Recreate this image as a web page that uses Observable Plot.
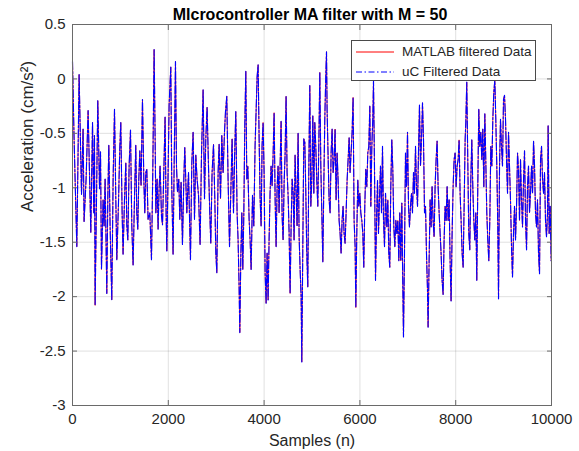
<!DOCTYPE html>
<html><head><meta charset="utf-8">
<script src="https://cdn.jsdelivr.net/npm/d3@7"></script>
<script src="https://cdn.jsdelivr.net/npm/@observablehq/plot@0.6"></script>
<style>
html,body{margin:0;padding:0;background:#fff;}
#wrap{position:relative;width:579px;height:451px;font-family:"Liberation Sans",Arial,sans-serif;}
#legend{position:absolute;left:351px;top:40px;width:185px;height:41px;box-sizing:border-box;border:1px solid #4a4a4a;background:#fff;}
#legend .sw{position:absolute;left:3px;}
#legend .lb{position:absolute;left:50px;font-size:13.5px;color:#262626;white-space:nowrap;line-height:1;}
</style></head><body>
<div id="wrap"></div>
<script>
const samples = [0,33,90,138,188,221,242,284,326,382,418,445,459,472,528,564,585,605,639,660,681,716,737,758,785,820,848,877,904,925,960,987,1008,1036,1056,1086,1113,1134,1155,1182,1211,1238,1265,1294,1321,1342,1363,1384,1405,1432,1461,1489,1509,1530,1551,1578,1614,1649,1676,1704,1725,1740,1766,1787,1808,1829,1858,1879,1906,1933,1954,1969,1996,2017,2052,2073,2100,2129,2150,2171,2192,2219,2240,2267,2296,2324,2344,
2386,2422,2463,2491,2518,2547,2574,2601,2631,2664,2693,2727,2756,2783,2810,2839,2866,2887,2914,2944,2971,2992,3013,3040,3061,3090,3117,3144,3173,3194,3221,3248,3278,3305,3332,3361,3388,3409,3436,3457,3478,3493,3514,3535,3555,3576,3597,3618,3639,3660,3687,3708,3729,3758,3785,3812,3833,3854,3875,3896,3917,3938,3958,3979,4000,4021,4042,4063,4084,4104,4125,4146,4167,4188,4209,4230,4251,4271,4292,4313,4334,4355,4376,4397,4418,4438,4459,4480,4501,4522,4543,4564,4585,4606,4626,4647,4668,4689,4710,4731,4752,4773,4787,4808,4829,4850,
4871,4891,4912,4933,4954,4975,4996,5017,5038,5058,5079,5100,5121,5142,5163,5184,5205,5226,5246,5267,5288,5303,5315,5336,5357,5378,5399,5420,5441,5462,5482,5503,5524,5545,5566,5587,5608,5628,5649,5670,5691,5712,5733,5754,5775,5795,5816,5837,5858,5879,5900,5915,5935,5956,5977,5998,6019,6040,6061,6081,6102,6123,6144,6165,6186,6207,6228,6249,6269,6284,6305,6326,6347,6368,6388,6409,6430,6451,6472,6493,6514,6535,
6562,6583,6603,6624,6645,6666,6687,6708,6729,6750,6771,6792,6812,6833,6854,6875,6896,6910,6931,6952,6973,6994,7015,7035,7056,7077,7098,7119,7140,7161,7182,7203,7223,7244,7265,7286,7307,7328,7349,7370,7390,7411,7424,7445,7466,7487,7507,7528,7549,7570,7591,7612,7633,7654,7675,7695,7716,7737,7758,7779,7800,7821,7842,7863,7883,7904,7925,7946,7967,7988,8009,8030,8051,8071,8092,8113,8134,8155,8176,8197,
8211,8231,8252,8273,8294,8315,8336,8357,8378,8399,8420,8440,8461,8482,8503,8524,8545,8566,8587,8608,8628,8649,8670,8691,8712,8733,8754,8775,8796,8817,8837,8858,8879,8894,8915,8935,8956,8977,8998,9019,9040,9061,9082,9103,9123,9144,9165,9186,9207,9228,9249,9270,9291,9311,9332,9353,9374,9395,9416,9437,9458,9479,9499,9520,9541,9562,9583,9604,9625,9646,9666,9687,9708,9729,9750,9771,9792,9813,9834,9854,9875,9896,9917,9930,9951,9972,9993];

const accel = [0.16,-0.55,-1.54,0.04,-1.06,-0.46,-1.31,-0.92,-0.29,-1.41,-0.40,-1.23,-0.52,-2.08,-0.20,-1.01,-0.67,-1.75,-1.11,-1.35,-0.92,-1.97,-1.10,-0.61,-1.35,-2.03,-0.92,-0.28,-1.10,-1.66,-1.14,-0.64,-0.40,-1.23,-1.61,-1.10,-0.77,-1.35,-1.48,-0.80,-0.47,-1.35,-1.71,-1.10,-0.61,-1.23,-1.38,-0.92,-0.66,-0.98,-0.19,-0.92,-1.23,-0.86,-0.83,-1.29,-1.23,-1.66,-0.86,0.27,-0.55,-1.23,-0.92,-1.38,-1.01,-0.80,-1.26,-1.34,-0.86,-0.35,-1.23,-1.58,-0.86,-0.24,0.11,-1.01,-1.61,-0.55,0.16,-0.80,-1.04,-0.92,-1.29,-0.95,-1.52,-0.92,-0.63,
-1.23,-0.86,-1.66,-0.77,-0.49,-1.29,-0.70,-0.92,-1.07,-1.52,-0.70,-0.10,-1.10,-0.55,-0.26,-0.80,-1.23,-1.51,-0.86,-0.60,-1.10,-1.60,-1.78,-0.86,-0.60,-1.10,-0.52,-0.86,-0.49,-0.30,-0.16,-0.92,-1.54,-1.04,-0.55,-1.23,-0.64,-0.30,-1.23,-1.48,-1.91,-2.33,-1.63,-1.23,-1.75,-1.26,-0.43,0.07,-0.92,-0.80,-1.29,-1.48,-1.75,-1.07,-1.35,-0.61,-0.30,0.02,0.13,-0.55,-1.10,-1.35,-0.61,-0.40,-0.86,-1.78,-2.06,-1.60,-2.03,-1.48,-1.04,-0.80,-0.98,-0.70,-0.31,-1.10,-1.54,-1.01,-0.80,-1.23,-0.80,-0.39,-1.26,-1.48,-0.95,-0.70,-0.16,-0.86,-1.07,-1.41,-1.97,-1.35,-0.92,-1.04,-1.48,-0.70,-1.03,-1.35,-0.50,-1.45,-1.75,-2.00,-2.60,-1.54,-0.55,-0.58,
-1.05,-1.60,-1.91,-0.83,-0.06,-1.17,-0.93,-0.34,-1.05,-0.40,-0.62,-0.93,-1.17,-0.62,0.06,-0.80,-1.23,-1.68,-0.99,-0.37,0.03,0.25,-0.28,-0.71,-1.11,-1.23,-0.68,-0.46,-0.86,-0.74,-0.46,-1.11,-0.68,-0.93,-1.30,-1.42,-1.60,-1.30,-1.17,-1.42,-1.51,-1.23,-0.93,-0.74,-0.54,-0.86,-0.68,-0.49,-0.17,-1.30,-1.54,-2.10,-1.42,-0.93,-1.17,-1.05,-1.23,-1.30,-1.42,-1.73,-1.17,-0.83,-0.99,-0.68,-0.62,-0.25,-1.17,-0.62,-0.37,-0.02,-0.83,-1.85,-1.30,-0.93,-1.42,-1.11,-0.80,-1.23,-0.62,-1.30,-1.54,-1.05,
-1.36,-1.11,-1.60,-1.73,-0.99,-0.56,-0.83,-1.36,-1.54,-1.30,-1.42,-1.30,-1.67,-1.23,-1.67,-1.14,-1.91,-2.37,-1.60,-0.68,-0.99,-0.49,-1.17,-1.36,-1.17,-1.05,-1.23,-0.86,-1.05,-0.62,-0.99,-1.17,-0.68,-0.24,-0.80,-0.56,-0.22,-0.56,-1.23,-1.17,-1.60,-1.94,-2.28,-1.67,-1.11,-1.36,-0.99,-1.30,-1.45,-0.99,-0.74,-0.57,-0.99,-1.23,-1.42,-1.60,-1.85,-1.98,-1.48,-1.17,-1.30,-0.99,-1.30,-1.11,-1.67,-2.04,-1.42,-0.99,-0.74,-0.68,-0.99,-0.80,-0.74,-0.56,-1.05,-1.30,-1.60,-1.73,-1.17,-0.56,
-0.40,-0.03,-0.74,-1.42,-1.57,-0.93,-0.56,-0.99,-1.30,-1.48,-1.23,-1.85,-0.99,-0.28,-0.62,-0.49,-0.74,-0.46,-0.99,-0.32,-0.74,-1.23,-1.48,-1.67,-1.30,-0.62,-0.80,-0.37,-0.12,-0.01,-0.37,-0.80,-1.36,-2.02,-0.80,-0.37,-0.62,-0.80,-0.19,-0.15,-0.37,-0.74,-1.05,-0.49,-0.80,-1.11,-1.54,-1.82,-1.42,-1.17,-1.48,-1.17,-0.68,-0.83,-1.30,-0.74,-1.11,-1.36,-0.93,-0.66,-1.30,-1.57,-0.99,-0.80,-1.23,-1.05,-0.80,-1.05,-0.57,-0.80,-1.23,-1.36,-1.11,-1.60,-1.79,-0.74,-0.62,-0.93,-1.05,-0.86,-1.30,-1.45,-1.23,-0.43,-1.42,-1.17,-1.67];

const xTicks = [0, 2000, 4000, 6000, 8000, 10000];
const yTicks = [0.5, 0, -0.5, -1, -1.5, -2, -2.5, -3];
const titleText = "MIcrocontroller MA filter with M = 50";
const xLabel = "Samples (n)";
const yLabel = "Acceleration (cm/s\u00B2)";
const seriesNames = ["MATLAB filtered Data", "uC Filtered Data"];
const seriesColors = ["#ff0000", "#0000ff"];
const seriesDash = [null, "8,2,2,2"];

const ink = "#262626";
const chart = Plot.plot({
  width: 579, height: 451,
  marginLeft: 72, marginRight: 28, marginTop: 24, marginBottom: 46,
  style: {fontFamily: "Liberation Sans, Arial, sans-serif", fontSize: "15px", color: ink, background: "#fff", overflow: "visible"},
  x: {domain: [0, 10000]},
  y: {domain: [-3, 0.5]},
  marks: [
    Plot.gridX(xTicks, {stroke: ink, strokeOpacity: 0.14}),
    Plot.gridY(yTicks, {stroke: ink, strokeOpacity: 0.14}),
    Plot.lineY(accel, {x: samples, stroke: seriesColors[0], strokeWidth: 0.8}),
    Plot.lineY(accel, {x: samples, stroke: seriesColors[1], strokeWidth: 1.15, strokeDasharray: seriesDash[1]}),
    Plot.frame({stroke: "#6a6a6a"}),
    Plot.axisX(xTicks, {anchor: "bottom", tickSize: -5, tickPadding: 13, tickFormat: d => String(d), label: null, stroke: "#6a6a6a"}),
    Plot.axisX(xTicks, {anchor: "top", tickSize: -5, tickFormat: () => "", label: null, stroke: "#6a6a6a"}),
    Plot.axisY(yTicks, {anchor: "left", tickSize: -5, tickPadding: 12, tickFormat: d => String(d), label: null, stroke: "#6a6a6a"}),
    Plot.axisY(yTicks, {anchor: "right", tickSize: -5, tickFormat: () => "", label: null, stroke: "#6a6a6a"}),
    Plot.text([xLabel], {frameAnchor: "bottom", dy: 35, fontSize: 16, lineAnchor: "middle", fill: ink}),
    Plot.text([yLabel], {frameAnchor: "left", rotate: -90, dx: -45, dy: -3, fontSize: 17, lineAnchor: "middle", fill: ink}),
    Plot.text([titleText], {frameAnchor: "top", dy: -10, dx: -2, fontSize: 16, fontWeight: "bold", lineAnchor: "middle", fill: "#000"})
  ]
});
const wrap = document.getElementById("wrap");
wrap.appendChild(chart);

const legend = document.createElement("div");
legend.id = "legend";
seriesNames.forEach((name, i) => {
  const top = 11 + i * 20;
  const sw = document.createElementNS("http://www.w3.org/2000/svg", "svg");
  sw.setAttribute("class", "sw");
  sw.setAttribute("width", "40"); sw.setAttribute("height", "6");
  sw.style.top = (top - 3) + "px";
  const ln = document.createElementNS("http://www.w3.org/2000/svg", "line");
  ln.setAttribute("x1", "1"); ln.setAttribute("x2", "39");
  ln.setAttribute("y1", "3"); ln.setAttribute("y2", "3");
  ln.setAttribute("stroke", seriesColors[i]); ln.setAttribute("stroke-width", "1");
  if (seriesDash[i]) ln.setAttribute("stroke-dasharray", "6,2.5,1.5,2.5");
  sw.appendChild(ln);
  legend.appendChild(sw);
  const lb = document.createElement("div");
  lb.className = "lb"; lb.textContent = name;
  lb.style.top = (top - 7) + "px";
  legend.appendChild(lb);
});
wrap.appendChild(legend);
</script>
</body></html>
